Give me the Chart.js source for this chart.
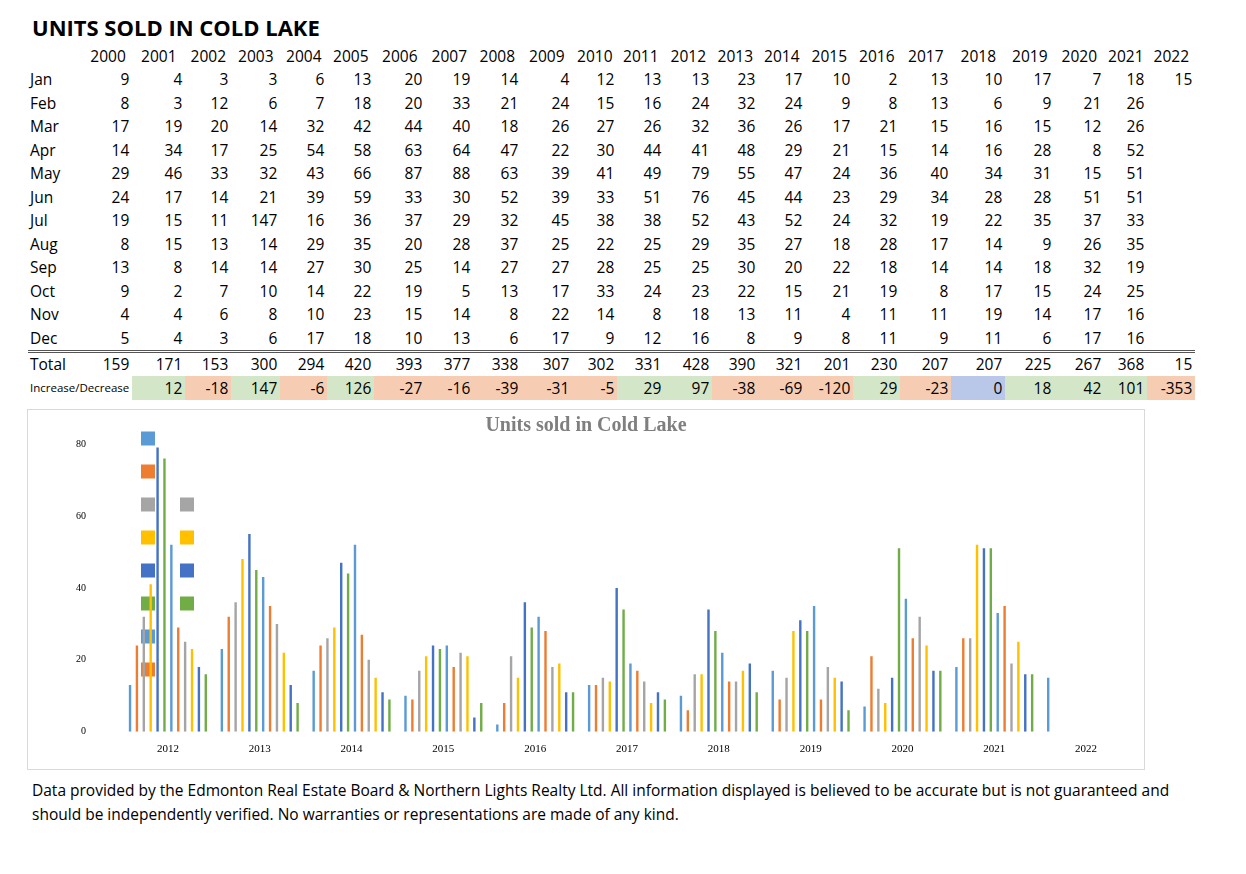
<!DOCTYPE html>
<html>
<head>
<meta charset="utf-8">
<script src="https://cdn.jsdelivr.net/npm/chart.js@4"></script>
<style>
  body { margin: 0; background: #fff; font-family: "Open Sans", "Noto Sans", sans-serif; color: #000; }
  #title { position: absolute; left: 32px; top: 12px; font-size: 22px; font-weight: bold; }
  table { position: absolute; left: 28px; top: 44px; border-collapse: collapse; table-layout: fixed; font-size: 15.5px; }
  td { height: 23.5px; padding: 0 3px 0 0; text-align: right; white-space: nowrap; }
  td.lbl { text-align: left; padding-left: 2px; }
  tr.head td { text-align: center; padding: 0; }
  tr.total td { border-top: 3px double #555; }
  .lblsmall { font-size: 11.5px; overflow: hidden; }
  .pos { background: #d3e6c8; }
  .neg { background: #f6cdb2; }
  .zero { background: #b9c8e8; }
  #box { position: absolute; left: 27px; top: 409px; width: 1116px; height: 359px; border: 1px solid #d9d9d9; }
  #ctitle { position: absolute; left: 0; width: 1116px; top: 3px; text-align: center; color: #7f7f7f;
    font-family: "Liberation Serif", serif; font-weight: bold; font-size: 20px; }
  #note { position: absolute; left: 32px; top: 778px; font-size: 15.5px; line-height: 24px; width: 1140px; }
</style>
</head>
<body>
<div id="title">UNITS SOLD IN COLD LAKE</div>
<table id="tbl"></table>
<div id="box"><canvas id="c" width="1116" height="359"></canvas><div id="ctitle">Units sold in Cold Lake</div></div>
<div id="note">Data provided by the Edmonton Real Estate Board &amp; Northern Lights Realty Ltd. All information displayed is believed to be accurate but is not guaranteed and should be independently verified. No warranties or representations are made of any kind.</div>
<script>
const years = [2000,2001,2002,2003,2004,2005,2006,2007,2008,2009,2010,2011,2012,2013,2014,2015,2016,2017,2018,2019,2020,2021,2022];
const months = ['Jan','Feb','Mar','Apr','May','Jun','Jul','Aug','Sep','Oct','Nov','Dec'];
const jan = [9,4,3,3,6,13,20,19,14,4,12,13,13,23,17,10,2,13,10,17,7,18,15];
const feb = [8,3,12,6,7,18,20,33,21,24,15,16,24,32,24,9,8,13,6,9,21,26,null];
const mar = [17,19,20,14,32,42,44,40,18,26,27,26,32,36,26,17,21,15,16,15,12,26,null];
const apr = [14,34,17,25,54,58,63,64,47,22,30,44,41,48,29,21,15,14,16,28,8,52,null];
const may = [29,46,33,32,43,66,87,88,63,39,41,49,79,55,47,24,36,40,34,31,15,51,null];
const jun = [24,17,14,21,39,59,33,30,52,39,33,51,76,45,44,23,29,34,28,28,51,51,null];
const jul = [19,15,11,147,16,36,37,29,32,45,38,38,52,43,52,24,32,19,22,35,37,33,null];
const aug = [8,15,13,14,29,35,20,28,37,25,22,25,29,35,27,18,28,17,14,9,26,35,null];
const sep = [13,8,14,14,27,30,25,14,27,27,28,25,25,30,20,22,18,14,14,18,32,19,null];
const oct = [9,2,7,10,14,22,19,5,13,17,33,24,23,22,15,21,19,8,17,15,24,25,null];
const nov = [4,4,6,8,10,23,15,14,8,22,14,8,18,13,11,4,11,11,19,14,17,16,null];
const dec = [5,4,3,6,17,18,10,13,6,17,9,12,16,8,9,8,11,9,11,6,17,16,null];
const totals = [159,171,153,300,294,420,393,377,338,307,302,331,428,390,321,201,230,207,207,225,267,368,15];
const changes = [null,12,-18,147,-6,126,-27,-16,-39,-31,-5,29,97,-38,-69,-120,29,-23,0,18,42,101,-353];
const monthRows = [jan,feb,mar,apr,may,jun,jul,aug,sep,oct,nov,dec];
const colWidths = [52,45,53,46,49,47,47,51,48,48,51,45,47,48,46,47,48,47,51,54,49,50,43,48];
const chartYears = ['2012','2013','2014','2015','2016','2017','2018','2019','2020','2021','2022'];
const palette = ['#5b9bd5','#ed7d31','#a5a5a5','#ffc000','#4472c4','#70ad47','#5b9bd5','#ed7d31','#a5a5a5','#ffc000','#4472c4','#70ad47'];

// build the table
let html = '<colgroup>' + colWidths.map(w => `<col style="width:${w}px">`).join('') + '</colgroup>';
html += '<tr class="head"><td></td>' + years.map(y => `<td>${y}</td>`).join('') + '</tr>';
for (let i = 0; i < months.length; i++) {
    html += `<tr><td class="lbl">${months[i]}</td>` + monthRows[i].map(v => `<td>${v === null ? '' : v}</td>`).join('') + '</tr>';
}
html += '<tr class="total"><td class="lbl">Total</td>' + totals.map(v => `<td>${v}</td>`).join('') + '</tr>';
html += '<tr><td class="lbl" colspan="2"><div class="lblsmall">Increase/Decrease</div></td>';
for (let j = 1; j < changes.length; j++) {
    const v = changes[j];
    const cls = v > 0 ? 'pos' : (v < 0 ? 'neg' : 'zero');
    html += `<td class="${cls}">${v}</td>`;
}
html += '</tr>';
document.getElementById('tbl').innerHTML = html;

// chart of 2012..2022
const start = years.indexOf(2012);
const datasets = monthRows.map((row, i) => ({
    label: months[i],
    data: row.slice(start),
    backgroundColor: palette[i],
    barPercentage: 0.35,
    categoryPercentage: 0.9
}));

new Chart(document.getElementById('c'), {
    type: 'bar',
    data: { labels: chartYears, datasets: datasets },
    options: {
        responsive: false,
        animation: false,
        layout: { padding: { left: 20, right: 12, bottom: 10, top: 16 } },
        plugins: {
            legend: { position: 'chartArea', align: 'center',
                labels: { generateLabels: chart => chart.data.datasets.map((d, i) => ({
                    text: '', fillStyle: d.backgroundColor, strokeStyle: d.backgroundColor, lineWidth: 0, datasetIndex: i })),
                    boxWidth: 14, boxHeight: 14, padding: 19 } },
            tooltip: { enabled: false }
        },
        scales: {
            x: { grid: { display: false }, border: { display: false },
                ticks: { color: '#000', font: { family: 'Liberation Serif', size: 11 } } },
            y: { min: 0, max: 80, grid: { display: false }, border: { display: false },
                ticks: { stepSize: 20, padding: 28, color: '#000', font: { family: 'Liberation Serif', size: 10 } } }
        }
    }
});
</script>
</body>
</html>
